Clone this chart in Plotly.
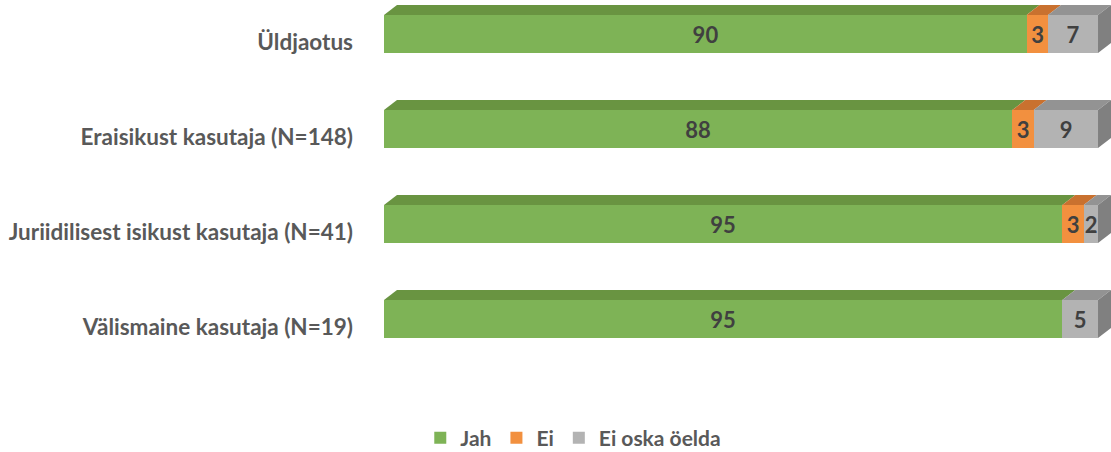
import plotly.graph_objects as go

categories = ["Üldjaotus", "Eraisikust kasutaja (N=148)",
              "Juriidilisest isikust kasutaja (N=41)", "Välismaine kasutaja (N=19)"]
series_names = ["Jah", "Ei", "Ei oska öelda"]
jah = [90, 88, 95, 95]
ei = [3, 3, 3, 0]
eos = [7, 9, 2, 5]
series_values = [jah, ei, eos]

front_colors = ["#7EB356", "#F2903F", "#B3B3B3"]
top_colors = ["#699441", "#C9712F", "#939393"]
side_color = "#808080"

BAR_W = 0.4
DX = 1.82     # depth in x data units
DY = 0.105    # depth in y category units

pos = list(range(len(categories)))

fig = go.Figure()
for name, vals, col in zip(series_names, series_values, front_colors):
    fig.add_trace(go.Bar(
        y=pos, x=vals, name=name, orientation="h", width=BAR_W,
        marker=dict(color=col, line=dict(width=0)),
        text=[str(v) if v else "" for v in vals],
        textposition="inside", insidetextanchor="middle",
        textfont=dict(family="Lato", size=22, color="#404040", weight="bold"),
        hoverinfo="skip",
    ))

shapes = []
for i, p in enumerate(pos):
    ytop = p - BAR_W / 2
    ybot = p + BAR_W / 2
    x0 = 0
    for vals, tc in zip(series_values, top_colors):
        v = vals[i]
        if v > 0:
            x1 = x0 + v
            path = (f"M {x0},{ytop} L {x1},{ytop} L {x1+DX},{ytop-DY} "
                    f"L {x0+DX},{ytop-DY} Z")
            shapes.append(dict(type="path", path=path, xref="x", yref="y",
                               fillcolor=tc, line=dict(width=0), layer="above"))
            x0 = x1
    path = (f"M {x0},{ytop} L {x0+DX},{ytop-DY} L {x0+DX},{ybot-DY} "
            f"L {x0},{ybot} Z")
    shapes.append(dict(type="path", path=path, xref="x", yref="y",
                       fillcolor=side_color, line=dict(width=0), layer="above"))

fig.update_layout(
    width=1111, height=452,
    barmode="stack", bargap=0,
    paper_bgcolor="white", plot_bgcolor="white",
    margin=dict(l=384, r=0, t=0, b=52, autoexpand=False),
    shapes=shapes,
    uniformtext=dict(minsize=22, mode="show"),
    xaxis=dict(range=[0, 100 + DX], visible=False, fixedrange=True),
    yaxis=dict(range=[3.853, -0.358], tickvals=pos, ticktext=categories,
               showgrid=False, zeroline=False, showline=False, ticks="",
               automargin=False, fixedrange=True,
               ticklabelstandoff=30, ticklabelshift=-8,
               tickfont=dict(family="Lato", size=22.5, color="#595959", weight="bold")),
    legend=dict(orientation="h", xref="container", yref="container",
                x=0.516, xanchor="center", y=0.031, yanchor="middle",
                font=dict(family="Lato", size=21, color="#595959", weight="bold"),
                traceorder="normal"),
    showlegend=True,
)

fig.write_html("out.html", config={"displayModeBar": False},
               post_script="document.body.style.margin='0';")
